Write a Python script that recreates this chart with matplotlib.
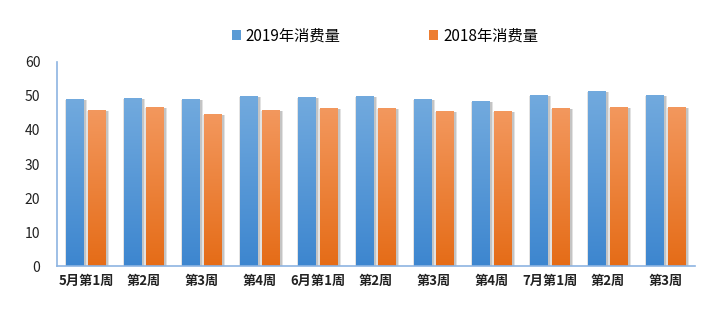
import matplotlib
matplotlib.use("Agg")
import matplotlib.pyplot as plt
import matplotlib.colors as mcolors
from matplotlib.patches import Rectangle, Patch
import numpy as np

plt.rcParams['font.family'] = ['Noto Sans CJK SC', 'DejaVu Sans']

### Data ###
weeks = ["5月第1周", "第2周", "第3周", "第4周", "6月第1周", "第2周",
         "第3周", "第4周", "7月第1周", "第2周", "第3周"]
consumption_2019 = [49.2, 49.4, 49.2, 49.9, 49.7, 49.9, 49.2, 48.5, 50.3, 51.5, 50.3]
consumption_2018 = [46.0, 46.8, 44.8, 46.0, 46.4, 46.4, 45.7, 45.5, 46.4, 46.8, 46.8]
series_names = ["2019年消费量", "2018年消费量"]
### End data ###

blue_top, blue_bottom = "#72aade", "#3d86cf"
orange_top, orange_bottom = "#f3985e", "#e56c17"
spine_color = "#8db4e2"

bar_w = 0.31
offset = 0.19

fig = plt.figure(figsize=(7.21, 3.28), dpi=100)
ax = fig.add_axes([0.079, 0.189, 0.885, 0.622])
x = np.arange(len(weeks))


def gradient_bars(ax, xs, heights, top, bottom):
    cmap = mcolors.LinearSegmentedColormap.from_list("g", [bottom, top])
    grad = np.linspace(0, 1, 256).reshape(-1, 1)
    for xc, h in zip(xs, heights):
        # soft gray shadow around the bar, heavier on the right
        ax.add_patch(Rectangle((xc - bar_w / 2 - 0.02, 0), bar_w + 0.07, h - 0.3,
                               facecolor="#e2e2e2", edgecolor="none", zorder=1))
        ax.add_patch(Rectangle((xc - bar_w / 2 + 0.03, 0), bar_w, h - 0.3,
                               facecolor="#c4c4c4", edgecolor="none", zorder=1))
        rect = Rectangle((xc - bar_w / 2, 0), bar_w, h,
                         facecolor="none", edgecolor="none", zorder=2)
        ax.add_patch(rect)
        im = ax.imshow(grad, cmap=cmap, origin="lower", aspect="auto",
                       extent=(xc - bar_w / 2, xc + bar_w / 2, 0, h), zorder=2)
        im.set_clip_path(rect)


gradient_bars(ax, x - offset, consumption_2019, blue_top, blue_bottom)
gradient_bars(ax, x + offset, consumption_2018, orange_top, orange_bottom)

ax.set_xlim(-0.5, len(weeks) - 0.5)
ax.set_ylim(0, 60)
ax.set_yticks(range(0, 61, 10))
ax.set_xticks(x)
ax.set_xticklabels(weeks, fontsize=9.5, fontweight="bold")
ax.tick_params(axis="both", length=0, colors="#222222")
ax.tick_params(axis="y", labelsize=10, pad=12)
ax.tick_params(axis="x", pad=6)

for side in ("top", "right"):
    ax.spines[side].set_visible(False)
for side in ("left", "bottom"):
    ax.spines[side].set_color(spine_color)
    ax.spines[side].set_linewidth(1.2)
    ax.spines[side].set_zorder(3)

handles = [Patch(facecolor="#5b9bd5"), Patch(facecolor="#ed7d31")]
fig.legend(handles, series_names, loc="center", bbox_to_anchor=(0.534, 0.89),
           ncol=2, frameon=False, fontsize=11, handlelength=0.6, handleheight=0.6,
           handletextpad=0.3, columnspacing=5.8)

fig.savefig("out.png", dpi=100)
